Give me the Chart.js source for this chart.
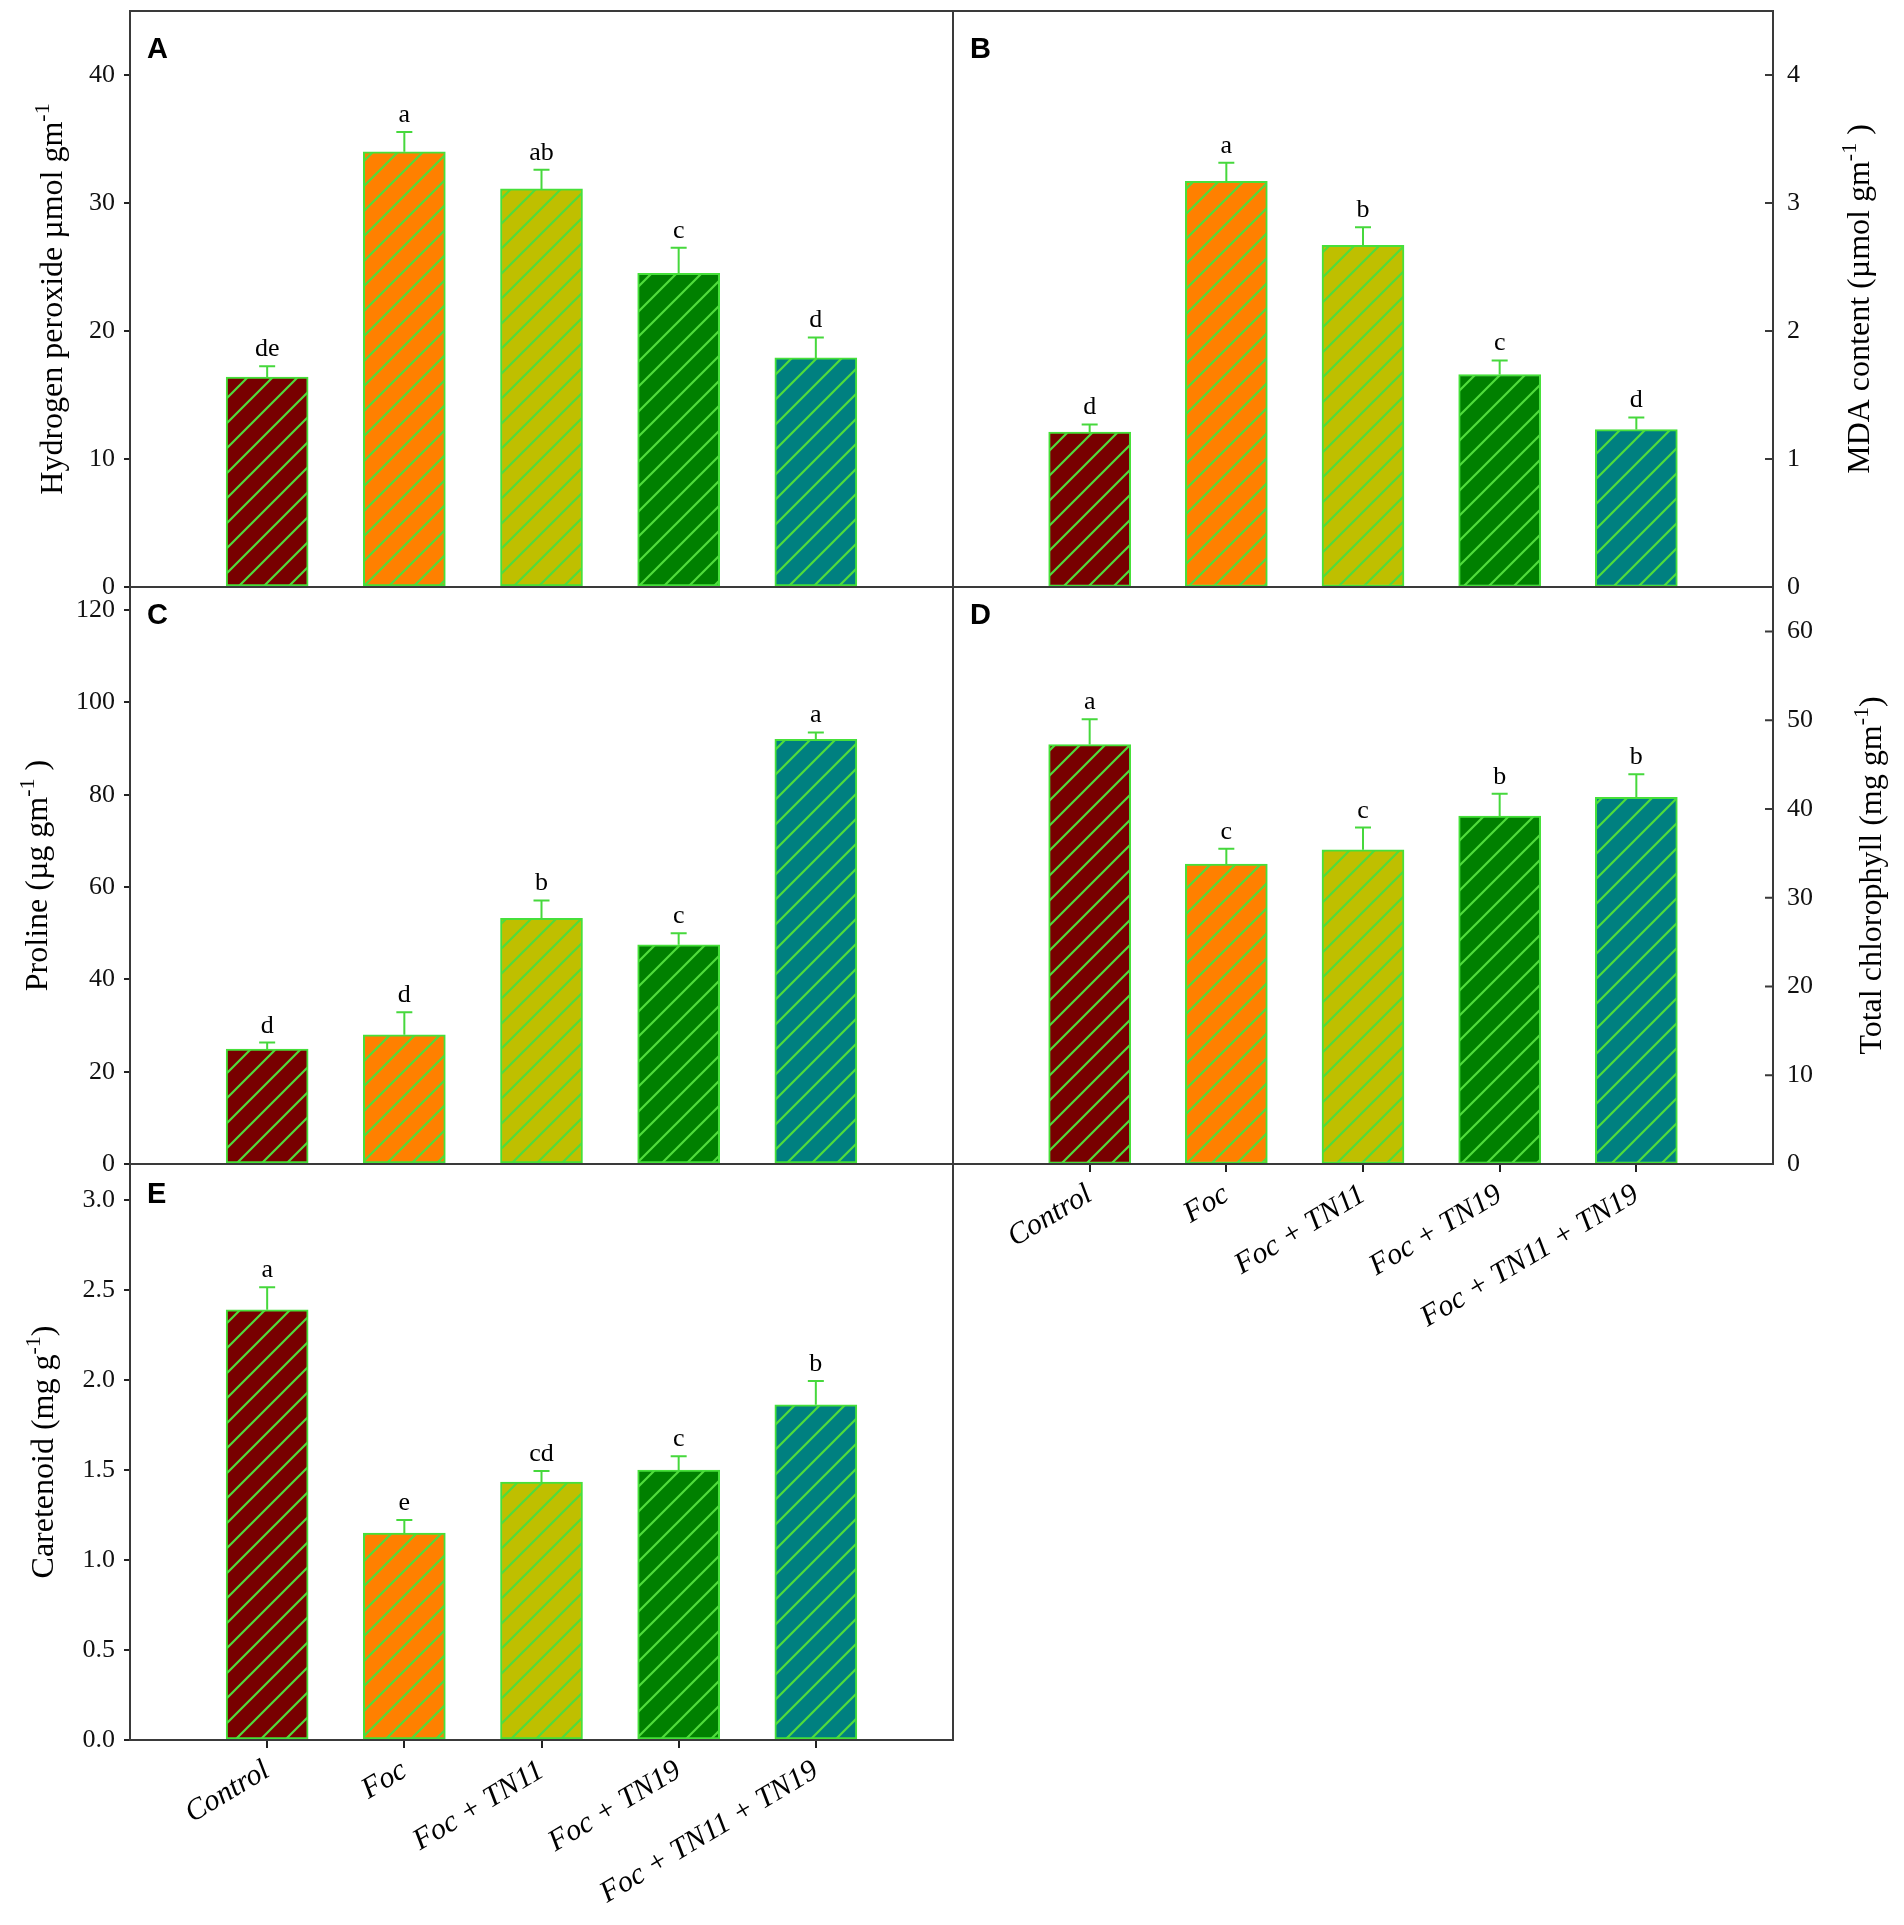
<!DOCTYPE html>
<html>
<head>
<meta charset="utf-8">
<title>Oxidative stress markers and pigments</title>
<script src="https://cdn.jsdelivr.net/npm/chart.js@4.4.1/dist/chart.umd.min.js"></script>
<style>
  html, body { margin: 0; padding: 0; background: #fff; }
  #wrap { position: relative; width: 1904px; height: 1925px; }
  #wrap canvas { position: absolute; left: 0; top: 0; }
</style>
</head>
<body>
<div id="wrap">
  <canvas id="panelA" width="1904" height="1925"></canvas>
  <canvas id="panelB" width="1904" height="1925"></canvas>
  <canvas id="panelC" width="1904" height="1925"></canvas>
  <canvas id="panelD" width="1904" height="1925"></canvas>
  <canvas id="panelE" width="1904" height="1925"></canvas>
</div>
<script>
// Dados
const CATEGORIES = ['Control', 'Foc', 'Foc + TN11', 'Foc + TN19', 'Foc + TN11 + TN19'];

const H2O2 = [16.4, 34.0, 31.1, 24.5, 17.9];
const H2O2_SE = [0.85, 1.55, 1.5, 2.0, 1.6];
const H2O2_LETTERS = ['de', 'a', 'ab', 'c', 'd'];
const H2O2_TICKS = [0, 10, 20, 30, 40];

const MDA = [1.21, 3.17, 2.67, 1.66, 1.23];
const MDA_SE = [0.06, 0.145, 0.14, 0.11, 0.095];
const MDA_LETTERS = ['d', 'a', 'b', 'c', 'd'];
const MDA_TICKS = [0, 1, 2, 3, 4];

const PROLINE = [24.9, 28.0, 53.2, 47.5, 92.0];
const PROLINE_SE = [1.4, 4.9, 3.9, 2.5, 1.5];
const PROLINE_LETTERS = ['d', 'd', 'b', 'c', 'a'];
const PROLINE_TICKS = [0, 20, 40, 60, 80, 100, 120];

const CHLOROPHYLL = [47.25, 33.8, 35.4, 39.2, 41.3];
const CHLOROPHYLL_SE = [2.85, 1.7, 2.5, 2.5, 2.6];
const CHLOROPHYLL_LETTERS = ['a', 'c', 'c', 'b', 'b'];
const CHLOROPHYLL_TICKS = [0, 10, 20, 30, 40, 50, 60];

const CAROTENOID = [2.39, 1.15, 1.433, 1.499, 1.862];
const CAROTENOID_SE = [0.125, 0.072, 0.061, 0.077, 0.133];
const CAROTENOID_LETTERS = ['a', 'e', 'cd', 'c', 'b'];
const CAROTENOID_TICKS = [0, 0.5, 1.0, 1.5, 2.0, 2.5, 3.0];

// Estilos
const PAGE_W = 1904;
const PAGE_H = 1925;
const BAR_COLORS = ['#780000', '#ff8000', '#bfbf00', '#008000', '#008080'];
const EDGE_GREEN = '#46e03a';
const HATCH_GREEN = '#50dc3c';
const ERR_GREEN = '#46d83c';
const FRAME = '#3a3a3a';
const SERIF = '"Liberation Serif", "Times New Roman", serif';

Chart.defaults.font.family = SERIF;

// Título do eixo: pedaços de texto, o segundo elemento marca o sobrescrito
const PANELS = {
    panelA: {
        box: { l: 130, t: 11, r: 953, b: 587 }, side: 'left', max: 45,
        values: H2O2, errors: H2O2_SE, letters: H2O2_LETTERS, ticks: H2O2_TICKS,
        tag: 'A', tagDy: 47, titleX: 62, decimals: 0, showX: false,
        title: [['Hydrogen peroxide µmol gm', false], ['-1', true]]
    },
    panelB: {
        box: { l: 953, t: 11, r: 1773, b: 587 }, side: 'right', max: 4.5,
        values: MDA, errors: MDA_SE, letters: MDA_LETTERS, ticks: MDA_TICKS,
        tag: 'B', tagDy: 47, titleX: 1869, decimals: 0, showX: false,
        title: [['MDA content (µmol gm', false], ['-1', true], [' )', false]]
    },
    panelC: {
        box: { l: 130, t: 587, r: 953, b: 1164 }, side: 'left', max: 125,
        values: PROLINE, errors: PROLINE_SE, letters: PROLINE_LETTERS, ticks: PROLINE_TICKS,
        tag: 'C', tagDy: 37, titleX: 47, decimals: 0, showX: false,
        title: [['Proline (µg gm', false], ['-1', true], [' )', false]]
    },
    panelD: {
        box: { l: 953, t: 587, r: 1773, b: 1164 }, side: 'right', max: 65,
        values: CHLOROPHYLL, errors: CHLOROPHYLL_SE, letters: CHLOROPHYLL_LETTERS, ticks: CHLOROPHYLL_TICKS,
        tag: 'D', tagDy: 37, titleX: 1881, decimals: 0, showX: true,
        title: [['Total chlorophyll (mg gm', false], ['-1', true], [')', false]]
    },
    panelE: {
        box: { l: 130, t: 1164, r: 953, b: 1740 }, side: 'left', max: 3.2,
        values: CAROTENOID, errors: CAROTENOID_SE, letters: CAROTENOID_LETTERS, ticks: CAROTENOID_TICKS,
        tag: 'E', tagDy: 39, titleX: 53, decimals: 1, showX: true,
        title: [['Caretenoid (mg g', false], ['-1', true], [')', false]]
    }
};

// Padrão de hachura diagonal sobre a cor da barra
function hatch(color) {
    const size = 25;
    const c = document.createElement('canvas');
    c.width = size;
    c.height = size;
    const g = c.getContext('2d');
    g.fillStyle = color;
    g.fillRect(0, 0, size, size);
    g.strokeStyle = HATCH_GREEN;
    g.lineWidth = 2.2;
    g.beginPath();
    g.moveTo(-size / 2, size / 2); g.lineTo(size / 2, -size / 2);
    g.moveTo(0, size); g.lineTo(size, 0);
    g.moveTo(size / 2, size * 1.5); g.lineTo(size * 1.5, size / 2);
    g.stroke();
    return g.createPattern(c, 'repeat');
}

function drawTitle(ctx, p) {
    const mainFont = '32px ' + SERIF;
    const supFont = '22px ' + SERIF;
    let total = 0;
    p.title.forEach(([txt, sup]) => {
        ctx.font = sup ? supFont : mainFont;
        total += ctx.measureText(txt).width;
    });
    const yMid = (p.box.t + p.box.b) / 2;
    ctx.save();
    ctx.translate(p.titleX, yMid);
    ctx.rotate(-Math.PI / 2);
    ctx.fillStyle = '#000';
    ctx.textAlign = 'left';
    ctx.textBaseline = 'alphabetic';
    let x = -total / 2;
    p.title.forEach(([txt, sup]) => {
        ctx.font = sup ? supFont : mainFont;
        ctx.fillText(txt, x, sup ? -13 : 0);
        x += ctx.measureText(txt).width;
    });
    ctx.restore();
}

// Barras de erro, letras, moldura, rótulo do painel e título do eixo
const panelDecor = {
    id: 'panelDecor',
    afterDraw(chart) {
        const p = PANELS[chart.canvas.id];
        const ctx = chart.ctx;
        const a = chart.chartArea;
        const ys = chart.scales.y;
        const meta = chart.getDatasetMeta(0);
        ctx.save();

        meta.data.forEach((bar, i) => {
            const yTop = ys.getPixelForValue(p.values[i] + p.errors[i]);
            ctx.strokeStyle = ERR_GREEN;
            ctx.lineWidth = 2;
            ctx.beginPath();
            ctx.moveTo(bar.x, bar.y);
            ctx.lineTo(bar.x, yTop);
            ctx.moveTo(bar.x - 8, yTop);
            ctx.lineTo(bar.x + 8, yTop);
            ctx.stroke();

            ctx.fillStyle = '#000';
            ctx.font = '26px ' + SERIF;
            ctx.textAlign = 'center';
            ctx.textBaseline = 'alphabetic';
            ctx.fillText(p.letters[i], bar.x, yTop - 10);
        });

        ctx.strokeStyle = FRAME;
        ctx.lineWidth = 2;
        ctx.strokeRect(a.left, a.top, a.right - a.left, a.bottom - a.top);

        // eixo da direita: marcas para dentro
        if (p.side === 'right') {
            ctx.beginPath();
            p.ticks.forEach(v => {
                const y = ys.getPixelForValue(v);
                ctx.moveTo(a.right - 8, y);
                ctx.lineTo(a.right, y);
            });
            ctx.stroke();
        }

        ctx.fillStyle = '#000';
        ctx.font = 'bold 29px "Liberation Sans", Arial, sans-serif';
        ctx.textAlign = 'left';
        ctx.fillText(p.tag, a.left + 17, a.top + p.tagDy);

        drawTitle(ctx, p);
        ctx.restore();
    }
};

function makePanel(id) {
    const p = PANELS[id];
    const left = p.side === 'left';
    const yW = 120;
    const xH = p.showX ? 180 : 0;
    const padding = {
        left: left ? p.box.l - yW : p.box.l,
        right: left ? PAGE_W - p.box.r : PAGE_W - p.box.r - yW,
        top: p.box.t,
        bottom: PAGE_H - p.box.b - xH
    };

    new Chart(document.getElementById(id), {
        type: 'bar',
        data: {
            datasets: [{
                data: CATEGORIES.map((c, i) => ({ x: i + 1, y: p.values[i] })),
                backgroundColor: BAR_COLORS.map(hatch),
                borderColor: EDGE_GREEN,
                borderWidth: 2,
                borderSkipped: false,
                barThickness: 82
            }]
        },
        options: {
            responsive: false,
            animation: false,
            events: [],
            layout: { padding },
            plugins: {
                legend: { display: false },
                tooltip: { enabled: false }
            },
            scales: {
                x: {
                    type: 'linear',
                    min: 0,
                    max: 6,
                    offset: false,
                    display: p.showX,
                    afterBuildTicks: s => { s.ticks = CATEGORIES.map((c, i) => ({ value: i + 1 })); },
                    afterFit: s => {
                        s.height = xH;
                        s.paddingLeft = 0; s.paddingRight = 0; s.paddingTop = 0; s.paddingBottom = 0;
                    },
                    ticks: {
                        autoSkip: false,
                        minRotation: 31,
                        maxRotation: 31,
                        padding: 5,
                        color: '#000',
                        font: { size: 30, style: 'italic' },
                        callback: v => CATEGORIES[v - 1] || ''
                    },
                    grid: { offset: false, drawOnChartArea: false, tickLength: 8, color: '#222', lineWidth: 2 },
                    border: { display: false }
                },
                y: {
                    type: 'linear',
                    position: p.side,
                    min: 0,
                    max: p.max,
                    afterBuildTicks: s => { s.ticks = p.ticks.map(v => ({ value: v })); },
                    afterFit: s => {
                        s.width = yW;
                        s.paddingLeft = 0; s.paddingRight = 0; s.paddingTop = 0; s.paddingBottom = 0;
                    },
                    ticks: {
                        padding: left ? 9 : 14,
                        color: '#111',
                        font: { size: 26 },
                        callback: v => Number(v).toFixed(p.decimals)
                    },
                    grid: left
                        ? { drawOnChartArea: false, tickLength: 6, color: '#222', lineWidth: 2 }
                        : { drawOnChartArea: false, drawTicks: false },
                    border: { display: false }
                }
            }
        },
        plugins: [panelDecor]
    });
}

document.addEventListener('DOMContentLoaded', () => {
    Object.keys(PANELS).forEach(makePanel);
});
</script>
</body>
</html>
